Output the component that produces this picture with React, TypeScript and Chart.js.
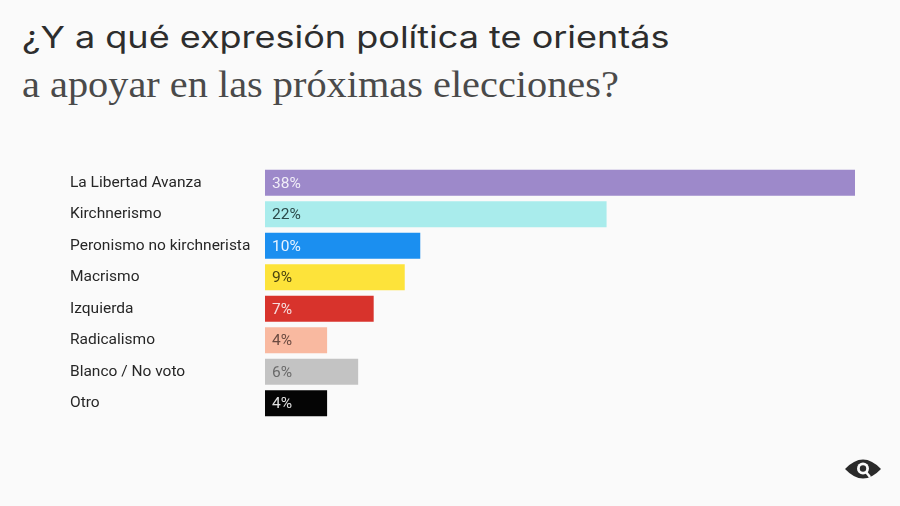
import React, { useEffect, useRef } from "react";
import { Chart, registerables } from "chart.js";

Chart.register(...registerables);

const categories = [
  "La Libertad Avanza",
  "Kirchnerismo",
  "Peronismo no kirchnerista",
  "Macrismo",
  "Izquierda",
  "Radicalismo",
  "Blanco / No voto",
  "Otro",
];
const values = [38, 22, 10, 9, 7, 4, 6, 4];
const barColors = ["#9d89ca", "#a9ecec", "#1b8ff0", "#fde33a", "#d8332c", "#f9b9a0", "#c3c3c3", "#050505"];
const labelColors = ["#f1eef8", "#2c4a4a", "#e8f3ff", "#4a4410", "#f6dcdc", "#6b4a40", "#6a6a6a", "#e0e0e0"];

const valueLabels = {
  id: "valueLabels",
  afterDatasetsDraw(chart: any) {
    const ctx = chart.ctx;
    const meta = chart.getDatasetMeta(0);
    ctx.save();
    ctx.font = "15.5px Roboto";
    ctx.textBaseline = "middle";
    ctx.textAlign = "left";
    meta.data.forEach((bar: any, i: number) => {
      ctx.fillStyle = labelColors[i];
      ctx.fillText(values[i] + "%", bar.base + 7, bar.y + 1);
    });
    ctx.restore();
  },
};

export default function App() {
  const ref = useRef<HTMLCanvasElement>(null);
  useEffect(() => {
    document.body.style.margin = "0";
    const chart = new Chart(ref.current!, {
      type: "bar",
      data: {
        labels: categories,
        datasets: [
          {
            data: values,
            backgroundColor: barColors,
            borderWidth: 0,
            barPercentage: 0.83,
            categoryPercentage: 1,
          },
        ],
      },
      options: {
        indexAxis: "y",
        animation: false,
        responsive: false,
        layout: { padding: { left: 70, top: 167, right: 45, bottom: 87 } },
        plugins: { legend: { display: false }, tooltip: { enabled: false } },
        scales: {
          x: { display: false, min: 0, max: 38 },
          y: {
            grid: { display: false, drawTicks: false },
            border: { display: false },
            ticks: {
              crossAlign: "far",
              padding: 0,
              color: "#262626",
              font: { family: "Roboto", size: 15.5 },
            },
            afterFit(scale: any) {
              scale.width = 195;
            },
          },
        },
      },
      plugins: [valueLabels],
    });
    return () => chart.destroy();
  }, []);

  return (
    <div style={{ position: "relative", width: 900, height: 506, background: "#fafafa", overflow: "hidden" }}>
      <div
        style={{
          position: "absolute",
          left: 22,
          top: 17,
          fontFamily: "Inter, 'Liberation Sans', sans-serif",
          fontSize: 30,
          fontWeight: 400,
          color: "#2d2d2d",
          whiteSpace: "nowrap",
          lineHeight: "40px",
          transformOrigin: "left top",
          transform: "scaleX(1.2)",
        }}
      >
        ¿Y a qué expresión política te orientás
      </div>
      <div
        style={{
          position: "absolute",
          left: 22,
          top: 62,
          fontFamily: "'Liberation Serif', 'DejaVu Serif', serif",
          fontSize: 37,
          color: "#4a4a4a",
          whiteSpace: "nowrap",
          lineHeight: "46px",
          transformOrigin: "left top",
          transform: "scaleX(1.09)",
        }}
      >
        a apoyar en las próximas elecciones?
      </div>
      <canvas ref={ref} width={900} height={506} style={{ position: "absolute", left: 0, top: 0 }} />
      <svg width="40" height="26" viewBox="0 0 40 26" style={{ position: "absolute", left: 843, top: 456 }}>
        <path d="M2 13 Q20 -6 38 13 Q20 32 2 13 Z" fill="#2a2a2a" />
        <circle cx="20" cy="12.5" r="6" fill="#fafafa" />
        <circle cx="20" cy="12.5" r="3.2" fill="#2a2a2a" />
        <path d="M23 16 L27 21" stroke="#fafafa" strokeWidth="2.5" />
      </svg>
    </div>
  );
}
